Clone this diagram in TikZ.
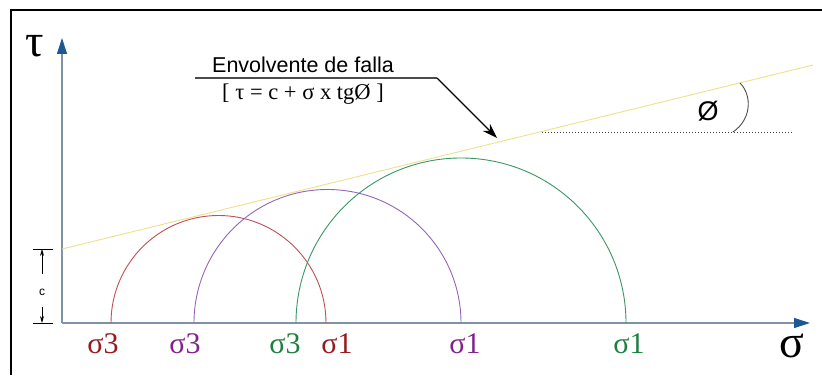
\documentclass[tikz,border=0pt]{standalone}
\usepackage{fontspec}
\setmainfont{Liberation Serif}
\setsansfont{Liberation Sans}
\usepackage{tikz}
\usetikzlibrary{arrows.meta, positioning}

\definecolor{ejegris}{RGB}{128,146,166}
\definecolor{ejeazul}{RGB}{28,88,148}
\definecolor{envamarillo}{RGB}{236,224,140}
\definecolor{rojoc}{RGB}{192,78,84}
\definecolor{rojot}{RGB}{150,26,30}
\definecolor{moradoc}{RGB}{150,100,182}
\definecolor{moradot}{RGB}{128,36,140}
\definecolor{verdec}{RGB}{58,150,100}
\definecolor{verdet}{RGB}{30,128,62}

\begin{document}
\begin{tikzpicture}[x=1pt, y=1pt,
    eje/.style={draw=ejegris, line width=1.1pt,
        -{Triangle[length=16pt, width=10pt, color=ejeazul]}},
    circulo/.style={line width=0.9pt},
    sigtxt/.style={font=\fontsize{30}{30}\selectfont, inner sep=0pt},
    ejetxt/.style={font=\fontsize{46}{46}\selectfont, inner sep=0pt}]
    % Marco (solo lados izquierdo y superior)
    \useasboundingbox (0,0) rectangle (822,375);
    \draw[line width=2.2pt] (11,0) -- (11,365) -- (822,365);

    % Ejes tau y sigma
    \coordinate (O) at (62,52);
    \coordinate (tauFin) at (62,337);
    \coordinate (sigFin) at (810,52);
    \draw[eje] (O) -- (tauFin);
    \draw[eje] (O) -- (sigFin);
    \node[ejetxt] (tau) at (35,329) {τ};
    \node[ejetxt] (sig) at (792,29) {σ};

    % Cohesion c
    \coordinate (cArr) at (33,126);
    \coordinate (cAba) at (33,52);
    \draw[line width=0.8pt] (cArr) -- ++(20,0);
    \draw[line width=0.8pt] (cAba) -- ++(20,0);
    \node[font=\sffamily\fontsize{12}{12}\selectfont, inner sep=1pt] (c) at (42,83) {c};
    \draw[-{Stealth[length=7pt, width=4pt]}, line width=0.7pt] (42,101) -- (42,126);
    \draw[-{Stealth[length=7pt, width=4pt]}, line width=0.7pt] (42,68) -- (42,52);

    % Envolvente de falla
    \coordinate (envIni) at (62,126);
    \coordinate (envFin) at (813,310);
    \draw[envamarillo, line width=0.9pt] (envIni) -- (envFin);

    % Circulos de Mohr
    \draw[circulo, rojoc] (111,52) arc[start angle=180, end angle=0, radius=107.5];
    \draw[circulo, moradoc] (194,52) arc[start angle=180, end angle=0, radius=133.5];
    \draw[circulo, verdec] (296,52) arc[start angle=180, end angle=0, radius=165];

    % Etiquetas de sigma
    \node[sigtxt, text=rojot] (s3rojo) at (103,31) {σ3};
    \node[sigtxt, text=moradot] (s3morado) at (185,31) {σ3};
    \node[sigtxt, text=verdet] (s3verde) at (285,31) {σ3};
    \node[sigtxt, text=rojot] (s1rojo) at (337,31) {σ1};
    \node[sigtxt, text=moradot] (s1morado) at (465,31) {σ1};
    \node[sigtxt, text=verdet] (s1verde) at (629,31) {σ1};

    % Rotulo de la envolvente
    \node[font=\sffamily\fontsize{21.5}{21.5}\selectfont, inner sep=1pt] (titulo) at (303,310) {Envolvente de falla};
    \node[font=\fontsize{22.5}{22.5}\selectfont, inner sep=1pt, below=9pt of titulo] (formula) {[ τ = c + σ x tgØ ]};
    \coordinate (rayaIni) at (195,297);
    \coordinate (rayaFin) at (437,297);
    \coordinate (flecha) at (497,237);
    \draw[line width=1.2pt, black!70] (rayaIni) -- (rayaFin);
    \draw[line width=1.1pt, -{Stealth[length=15pt, width=10pt]}] (rayaFin) -- (flecha);

    % Angulo de friccion
    \coordinate (vert) at (542,243);
    \draw[black!75, line width=0.9pt, dash pattern=on 1pt off 2pt] (vert) -- (792,243);
    \draw[black!70, line width=0.9pt] (733,243) .. controls (752,256) and (752,280) .. (740,292);
    \node[font=\sffamily\fontsize{27}{27}\selectfont, inner sep=1pt] (phi) at (708,264) {Ø};
\end{tikzpicture}
\end{document}
